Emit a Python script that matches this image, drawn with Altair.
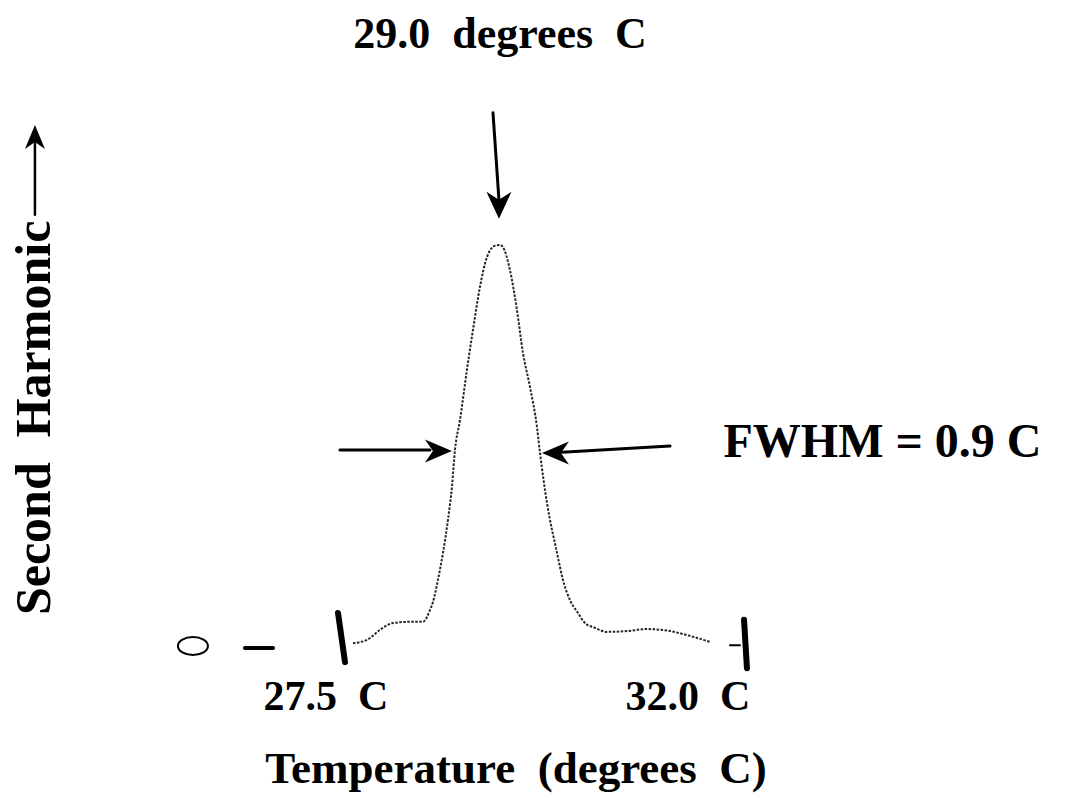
import altair as alt
import pandas as pd

# ---- data ----
temp = [27.613, 27.771, 27.917, 28.064, 28.256, 28.402, 28.481, 28.515, 28.571, 28.628,
        28.684, 28.729, 28.763, 28.820, 28.898, 28.966, 29.045, 29.124, 29.214, 29.271,
        29.304, 29.383, 29.462, 29.530, 29.609, 29.688, 29.722, 29.801, 29.914, 29.981,
        30.060, 30.150, 30.229, 30.342, 30.477, 30.703, 30.929, 31.188, 31.414, 31.639]
signal = [0.012, 0.020, 0.045, 0.062, 0.065, 0.065, 0.094, 0.114, 0.169, 0.236,
          0.318, 0.400, 0.491, 0.566, 0.690, 0.789, 0.896, 0.970, 0.998, 1.000,
          0.995, 0.938, 0.839, 0.732, 0.648, 0.548, 0.484, 0.360, 0.236, 0.169,
          0.119, 0.087, 0.062, 0.050, 0.040, 0.042, 0.047, 0.042, 0.030, 0.015]

SP = "\u00a0"  # non-breaking space keeps the wide gaps of the original typesetting

# text labels
label_text = ["29.0" + SP * 2 + "degrees" + SP * 2 + "C",
              "FWHM = 0.9 C",
              "27.5" + SP * 2 + "C",
              "32.0" + SP * 2 + "C",
              "Temperature" + SP * 2 + "(degrees" + SP * 2 + "C)",
              "Second" + SP * 2 + "Harmonic"]
label_t = [29.271, 33.585, 27.308, 31.391, 29.451, 24.196]
label_y = [1.489, 0.474, -0.154, -0.154, -0.335, 0.571]
label_size = [44, 48, 42, 42, 45, 50]
label_angle = [0, 0, 0, 0, 0, 270]

# line segments (arrow shafts, hand-drawn ticks, dash)
seg_t1 = [29.192, 27.466, 31.188, 24.026, 27.444, 32.023, 26.395, 31.865]
seg_y1 = [1.328, 0.491, 0.501, 1.075, 0.087, 0.070, 0.000, 0.007]
seg_t2 = [29.259, 28.481, 29.970, 24.026, 27.523, 32.056, 26.711, 31.977]
seg_y2 = [1.112, 0.491, 0.486, 1.260, -0.035, -0.050, 0.000, 0.007]
seg_w = [3, 3, 3, 2.5, 6, 6, 4, 2]

# arrow heads (tip positions)
head_t = [29.259, 28.729, 29.744, 24.026]
head_y = [1.065, 0.489, 0.484, 1.298]
head_dir = ["down", "right", "left", "up"]

# zero marker
zero_t = [25.808]
zero_y = [0.005]

XMIN, XMAX = 23.632, 35.643
YMIN, YMAX = -0.3722, 1.6079

xs = alt.Scale(domain=[XMIN, XMAX], nice=False, zero=False)
ys = alt.Scale(domain=[YMIN, YMAX], nice=False, zero=False)

shapes = {
    "down": "M0,0 L-12.5,-27 L0,-19 L12.5,-27 Z",
    "right": "M0,0 L-27,-11.5 L-19,0 L-27,11.5 Z",
    "left": "M0,0 L27,-11.5 L19,0 L27,11.5 Z",
    "up": "M0,0 L-10,24 L0,17 L10,24 Z",
}

curve_df = pd.DataFrame({"t": temp, "s": signal})
label_df = pd.DataFrame({"txt": label_text, "t": label_t, "y": label_y,
                         "fs": label_size, "ang": label_angle})
seg_df = pd.DataFrame({"t1": seg_t1, "y1": seg_y1, "t2": seg_t2, "y2": seg_y2, "w": seg_w})
head_df = pd.DataFrame({"t": head_t, "y": head_y,
                        "shape": [shapes[d] for d in head_dir]})
zero_df = pd.DataFrame({"t": zero_t, "y": zero_y})

curve = alt.Chart(curve_df).mark_line(
    color="#262626", strokeWidth=2, strokeDash=[2.5, 1.5], interpolate="monotone"
).encode(
    x=alt.X("t:Q", scale=xs, axis=None),
    y=alt.Y("s:Q", scale=ys, axis=None),
)

segs = alt.Chart(seg_df).mark_rule(color="black", strokeCap="round").encode(
    x=alt.X("t1:Q", scale=xs, axis=None),
    y=alt.Y("y1:Q", scale=ys, axis=None),
    x2="t2:Q",
    y2="y2:Q",
    strokeWidth=alt.StrokeWidth("w:Q", scale=None, legend=None),
)

heads = alt.Chart(head_df).mark_point(filled=True, color="black", opacity=1, strokeWidth=0).encode(
    x=alt.X("t:Q", scale=xs, axis=None),
    y=alt.Y("y:Q", scale=ys, axis=None),
    shape=alt.Shape("shape:N", scale=None, legend=None),
    size=alt.value(4),
)

zero_mark = alt.Chart(zero_df).mark_point(
    filled=False, color="black", strokeWidth=2, opacity=1,
    shape="M-15,0 A15,9 0 1,0 15,0 A15,9 0 1,0 -15,0 Z",
).encode(
    x=alt.X("t:Q", scale=xs, axis=None),
    y=alt.Y("y:Q", scale=ys, axis=None),
    size=alt.value(4),
)

labels = alt.Chart(label_df).mark_text(
    font="Liberation Serif", fontWeight="bold", color="black",
    align="center", baseline="alphabetic",
).encode(
    x=alt.X("t:Q", scale=xs, axis=None),
    y=alt.Y("y:Q", scale=ys, axis=None),
    text="txt:N",
    size=alt.Size("fs:Q", scale=None, legend=None),
    angle=alt.Angle("ang:Q", scale=None, legend=None),
)

chart = alt.layer(curve, segs, heads, zero_mark, labels).properties(
    width=1065, height=798, padding=0,
    autosize=alt.AutoSizeParams(type="none"),
    background="white",
).configure_view(stroke=None)

chart.save("out.html", embed_options={"renderer": "svg", "actions": False})
